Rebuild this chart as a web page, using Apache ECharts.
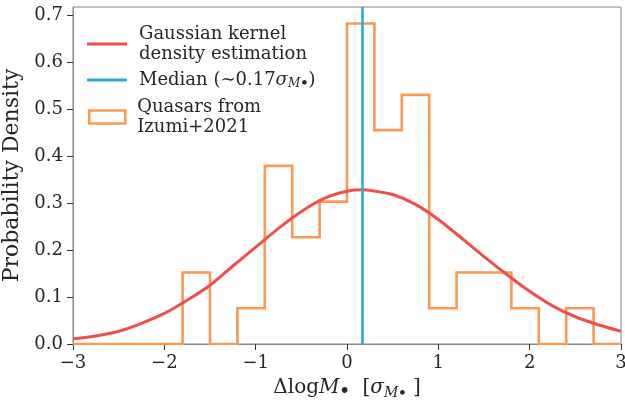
<!DOCTYPE html>
<html><head><meta charset="utf-8">
<script src="https://cdn.jsdelivr.net/npm/echarts@6/dist/echarts.min.js"></script>
<style>html,body{margin:0;padding:0;background:#fff}#c{width:625px;height:403px}</style>
</head><body><div id="c"></div>
<script>
// ---- data ----
const binEdges = [-3.0,-2.7,-2.4,-2.1,-1.8,-1.5,-1.2,-0.9,-0.6,-0.3,0.0,0.3,0.6,0.9,1.2,1.5,1.8,2.1,2.4,2.7,3.0];
const histDensity = [0,0,0,0,0.152,0,0.076,0.379,0.227,0.303,0.682,0.455,0.530,0.076,0.152,0.152,0.076,0,0.076,0];
const kdeX = [-3,-2.75,-2.5,-2.25,-2,-1.75,-1.5,-1.25,-1,-0.75,-0.5,-0.25,0,0.17,0.25,0.5,0.75,1,1.25,1.5,1.75,2,2.25,2.5,2.75,3];
const kdeY = [0.011,0.017,0.027,0.044,0.065,0.093,0.125,0.166,0.206,0.246,0.282,0.310,0.325,0.328,0.327,0.318,0.297,0.265,0.226,0.186,0.148,0.112,0.081,0.058,0.041,0.027];
const medianValue = 0.17;
const xTickLabels = ['−3','−2','−1','0','1','2','3'];
const yTickLabels = ['0.0','0.1','0.2','0.3','0.4','0.5','0.6','0.7'];

const NAME_KDE = 'Gaussian kernel\ndensity estimation';
const NAME_MED = 'Median';
const NAME_HIST = 'Quasars from\nIzumi+2021';

const RED = '#ef4f4c', ORANGE = '#fa9a52', CYAN = '#27afc9';
const FONT = 'DejaVu Serif';
const TXT = '#262626';

// histogram outline built from edges & heights
const histPts = [[binEdges[0], 0]];
for (let i = 0; i < histDensity.length; i++) {
  histPts.push([binEdges[i], histDensity[i]]);
  histPts.push([binEdges[i + 1], histDensity[i]]);
}
histPts.push([binEdges[binEdges.length - 1], 0]);
const kdePts = kdeX.map((x, i) => [x, kdeY[i]]);

const subRich = {
  a: {fontFamily: FONT, fontSize: 18, color: TXT, lineHeight: 20},
  i: {fontFamily: FONT, fontSize: 18, fontStyle: 'italic', color: TXT, lineHeight: 20},
  s: {fontFamily: FONT, fontSize: 12, fontStyle: 'italic', color: TXT, lineHeight: 9, verticalAlign: 'bottom'},
  d: {fontFamily: FONT, fontSize: 13, fontWeight: 'bold', color: TXT, lineHeight: 3, verticalAlign: 'bottom'}
};
const axRich = {
  a: {fontFamily: FONT, fontSize: 20, color: TXT, lineHeight: 24},
  i: {fontFamily: FONT, fontSize: 20, fontStyle: 'italic', color: TXT, lineHeight: 24},
  b: {fontFamily: FONT, fontSize: 16, fontWeight: 'bold', color: TXT, lineHeight: 8, verticalAlign: 'bottom'},
  s: {fontFamily: FONT, fontSize: 14, fontStyle: 'italic', color: TXT, lineHeight: 11, verticalAlign: 'bottom'},
  d: {fontFamily: FONT, fontSize: 13, fontWeight: 'bold', color: TXT, lineHeight: 3, verticalAlign: 'bottom'}
};

const legendBase = {
  orient: 'vertical', icon: 'rect', itemWidth: 40, selectedMode: false, padding: 0,
  textStyle: {fontFamily: FONT, fontSize: 18, color: TXT, lineHeight: 20, padding: [0, 0, 0, 7]}
};

const chart = echarts.init(document.getElementById('c'), null, {renderer: 'canvas'});
chart.setOption({
  animation: false,
  backgroundColor: '#fff',
  grid: {left: 73, right: 4, top: 7, bottom: 59, show: true, borderColor: '#888', borderWidth: 1,
    outerBoundsMode: 'none', containLabel: false},
  legend: [
    Object.assign({}, legendBase, {data: [NAME_KDE], left: 87, top: 24, itemHeight: 3}),
    Object.assign({}, legendBase, {data: [NAME_MED], left: 87, top: 70, itemHeight: 3,
      formatter: () => '{a|Median (∼0.17}{i|σ}{s|M}{d|•}{a|)}',
      textStyle: Object.assign({}, legendBase.textStyle, {rich: subRich})}),
    Object.assign({}, legendBase, {data: [NAME_HIST], left: 88, top: 97, itemWidth: 36, itemHeight: 13,
      itemStyle: {color: '#fff', borderColor: ORANGE, borderWidth: 2.5}})
  ],
  xAxis: {
    type: 'value', min: -3, max: 3, interval: 1,
    name: '{a|Δlog}{i|M}{b|•}{a|  [}{i|σ}{s|M}{d|•}{a| ]}',
    nameLocation: 'middle', nameGap: 32,
    nameTextStyle: {rich: axRich},
    axisLine: {lineStyle: {color: '#888', width: 1}},
    axisTick: {length: 6, lineStyle: {color: '#333', width: 1}},
    axisLabel: {fontFamily: FONT, fontSize: 18, color: TXT, margin: 10,
      formatter: v => xTickLabels[Math.round(v) + 3] || ''},
    splitLine: {show: false}
  },
  yAxis: {
    type: 'value', min: 0, max: 0.717, interval: 0.1,
    name: 'Probability Density', nameLocation: 'middle', nameGap: 42,
    nameTextStyle: {fontFamily: FONT, fontSize: 22, color: TXT},
    axisLine: {show: true, onZero: false, lineStyle: {color: '#888', width: 1}},
    axisTick: {length: 6, lineStyle: {color: '#333', width: 1}},
    axisLabel: {fontFamily: FONT, fontSize: 18, color: TXT, margin: 10, showMaxLabel: false,
      formatter: v => { const k = Math.round(v * 10); return Math.abs(v * 10 - k) < 1e-6 ? (yTickLabels[k] || '') : ''; }},
    splitLine: {show: false}
  },
  series: [
    {type: 'line', name: NAME_HIST, data: histPts, color: ORANGE, symbol: 'none',
      lineStyle: {color: ORANGE, width: 2.6, join: 'miter'}, z: 2},
    {type: 'line', name: NAME_KDE, data: kdePts, color: RED, symbol: 'none', smooth: 0.25,
      lineStyle: {color: RED, width: 3}, z: 3},
    {type: 'line', name: NAME_MED, data: [], color: CYAN, symbol: 'none', z: 4,
      markLine: {silent: true, symbol: 'none', label: {show: false},
        lineStyle: {color: CYAN, width: 2.6, type: 'solid'},
        data: [{xAxis: medianValue}]}}
  ]
});
</script></body></html>
